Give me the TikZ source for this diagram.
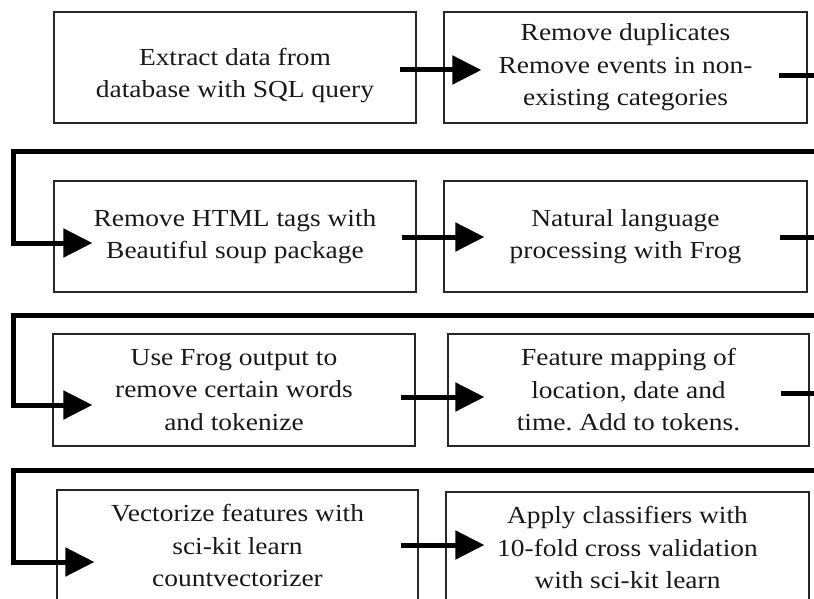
\documentclass[tikz,border=0pt]{standalone}
\usepackage{fontspec}
\setmainfont[FakeStretch=1.12]{Liberation Serif}
\usetikzlibrary{arrows.meta}
\frenchspacing
\tikzset{
  box/.style={draw=black!85, line width=1.2pt, rectangle, minimum width=362pt, minimum height=111pt,
    inner sep=0pt, align=center, text=black!90, font=\fontsize{24.5}{32.5}\selectfont},
  txt/.style={align=center, text=black!90, inner sep=0pt, font=\fontsize{24.5}{32.5}\selectfont},
  flow/.style={line width=5pt, -{Triangle[length=29pt,width=28pt]}},
  link/.style={line width=5pt}
}
\begin{document}
\begin{tikzpicture}[x=1pt,y=-1pt]
\useasboundingbox (0,0) rectangle (814,599);
\clip (0,0) rectangle (814,599);
% boxes
\node[box] (A) at (235,67.5) {};
\node[txt] (At) at (235,75.5) {Extract data from\\database with SQL query};
\node[box, minimum width=363pt] (B) at (625.5,67.5) {Remove duplicates\\Remove events in non-\\existing categories};
\node[box] (C) at (235,236.5) {Remove HTML tags with\\Beautiful soup package};
\node[box, minimum width=363pt] (D) at (625.5,236.5) {Natural language\\processing with Frog};
\node[box, minimum height=112pt] (E) at (234,390) {Use Frog output to\\remove certain words\\and tokenize};
\node[box, minimum width=361pt, minimum height=112pt] (F) at (628.5,390) {Feature mapping of\\location, date and\\time. Add to tokens.};
\node[box, minimum width=361pt] (G) at (237.5,545.5) {Vectorize features with\\sci-kit learn\\countvectorizer};
\node[box, minimum width=363pt] (H) at (627.5,547.5) {Apply classifiers with\\10-fold cross validation\\with sci-kit learn};
% corner coordinates
\coordinate (r1) at (840,152);
\coordinate (l1) at (13,152);
\coordinate (r2) at (840,315);
\coordinate (l2) at (13,315);
\coordinate (r3) at (840,470);
\coordinate (l3) at (13,470);
% row arrows
\draw[flow] ([shift={(-17,2.5)}]A.east) -- ([shift={(38,2.5)}]B.west);
\draw[flow] ([shift={(-15,0.5)}]C.east) -- ([shift={(41,0.5)}]D.west);
\draw[flow] ([shift={(-15,7)}]E.east) -- ([shift={(37,7)}]F.west);
\draw[flow] ([shift={(-18,-0.5)}]G.east) -- ([shift={(39,-2.5)}]H.west);
% row-to-row connectors
\draw[flow] ([shift={(-29,8.5)}]B.east) -| (r1) -- (l1) |- ([shift={(39,6.5)}]C.west);
\draw[flow] ([shift={(-28,0.5)}]D.east) -| (r2) -- (l2) |- ([shift={(40,15)}]E.west);
\draw[flow] ([shift={(-29,3)}]F.east) -| (r3) -- (l3) |- ([shift={(38,16.5)}]G.west);
\end{tikzpicture}
\end{document}
